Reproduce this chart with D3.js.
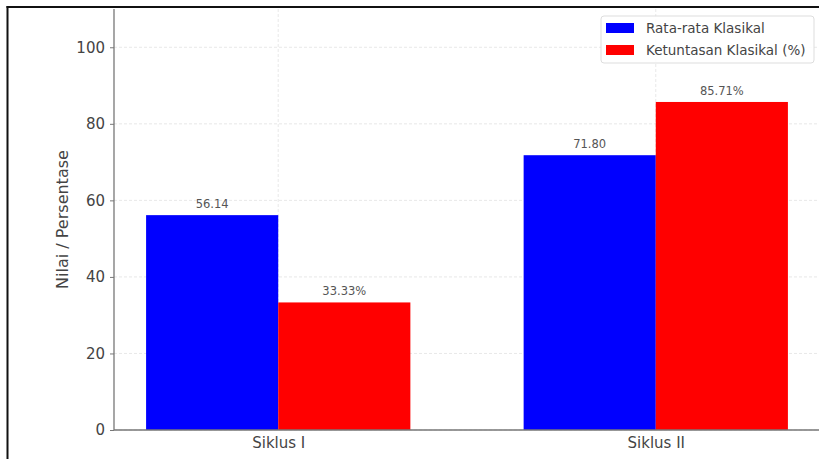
<!DOCTYPE html>
<html>
<head>
<meta charset="utf-8">
<script src="https://cdn.jsdelivr.net/npm/d3@7"></script>
<style>
  body { margin: 0; background: #fff; overflow: hidden; }
  svg { display: block; font-family: "DejaVu Sans", sans-serif; }
</style>
</head>
<body>
<svg id="chart" width="819" height="459"></svg>
<script>
// data
const categories = ['Siklus I', 'Siklus II'];
const seriesNames = ['Rata-rata Klasikal', 'Ketuntasan Klasikal (%)'];
const rataRata = [56.14, 71.80];
const ketuntasan = [33.33, 85.71];
const yTicks = [0, 20, 40, 60, 80, 100];

const colors = ['#0000ff', '#ff0000'];
const svg = d3.select('#chart');

const plotL = 114, plotR = 820, plotT = 9, plotB = 430;

// bar index scale, matplotlib style: centers at 0 and 1, width 0.35
const x = d3.scaleLinear().domain([-0.435, 1.435]).range([plotL, plotR]);
const y = d3.scaleLinear().domain([0, 110]).range([plotB, plotT]);
const barW = 0.35;

// image border (top and left only, the rest is cropped off)
svg.append('line').attr('x1', 6.5).attr('x2', 819).attr('y1', 7).attr('y2', 7)
  .attr('stroke', '#111').attr('stroke-width', 2);
svg.append('line').attr('x1', 7.5).attr('x2', 7.5).attr('y1', 6).attr('y2', 459)
  .attr('stroke', '#111').attr('stroke-width', 2);

// grid
const grid = svg.append('g');
grid.selectAll('line.h').data(yTicks).join('line')
  .attr('x1', plotL).attr('x2', plotR)
  .attr('y1', d => y(d)).attr('y2', d => y(d))
  .attr('stroke', '#e2e2e2').attr('stroke-dasharray', '3,2').attr('stroke-width', 0.8);
grid.selectAll('line.v').data(categories).join('line')
  .attr('x1', (d, i) => x(i)).attr('x2', (d, i) => x(i))
  .attr('y1', plotT).attr('y2', plotB)
  .attr('stroke', '#e2e2e2').attr('stroke-dasharray', '3,2').attr('stroke-width', 0.8);

// bars
const series = [rataRata, ketuntasan];
const fmt = [d => d.toFixed(2), d => d.toFixed(2) + '%'];
series.forEach((vals, s) => {
  const off = s === 0 ? -barW : 0;
  svg.append('g').selectAll('rect').data(vals).join('rect')
    .attr('x', (d, i) => x(i + off))
    .attr('width', x(barW) - x(0))
    .attr('y', d => y(d))
    .attr('height', d => plotB - y(d))
    .attr('fill', colors[s]);
  svg.append('g').selectAll('text').data(vals).join('text')
    .attr('x', (d, i) => x(i + off + barW / 2))
    .attr('y', d => y(d) - 7)
    .attr('text-anchor', 'middle')
    .attr('font-size', 11.5)
    .attr('fill', '#555')
    .text(fmt[s]);
});

// axes
const yAxis = d3.axisLeft(y).tickValues(yTicks).tickSize(4).tickPadding(5);
const gy = svg.append('g').attr('transform', `translate(${plotL},0)`).call(yAxis);
gy.select('.domain').attr('stroke', '#777').attr('stroke-width', 1.3).attr('d', `M0,${plotT}V${plotB}`);
gy.selectAll('.tick line').attr('stroke', '#777');
gy.selectAll('.tick text').attr('font-size', 15).attr('fill', '#444').attr('font-family', '"DejaVu Sans", sans-serif');

const xAxis = d3.axisBottom(x).tickValues([0, 1]).tickFormat((d, i) => categories[i]).tickSize(0).tickPadding(7);
const gx = svg.append('g').attr('transform', `translate(0,${plotB})`).call(xAxis);
gx.select('.domain').attr('stroke', '#777').attr('stroke-width', 1.3).attr('d', `M${plotL},0H${plotR}`);
gx.selectAll('.tick text').attr('font-size', 15).attr('fill', '#444').attr('font-family', '"DejaVu Sans", sans-serif');

// y label
svg.append('text')
  .attr('transform', `translate(62,${(plotT + plotB) / 2}) rotate(-90)`)
  .attr('text-anchor', 'middle')
  .attr('dy', '0.35em')
  .attr('font-size', 16)
  .attr('fill', '#444')
  .text('Nilai / Persentase');

// legend
const lg = svg.append('g').attr('transform', 'translate(601,16)');
lg.append('rect').attr('width', 213).attr('height', 47).attr('rx', 3)
  .attr('fill', '#fff').attr('fill-opacity', 0.85).attr('stroke', '#ddd');
seriesNames.forEach((name, i) => {
  lg.append('rect').attr('x', 5).attr('y', 7 + i * 22).attr('width', 28).attr('height', 10).attr('fill', colors[i]);
  lg.append('text').attr('x', 45).attr('y', 12 + i * 22).attr('dy', '0.35em')
    .attr('font-size', 13.5).attr('fill', '#444').text(name);
});
</script>
</body>
</html>
